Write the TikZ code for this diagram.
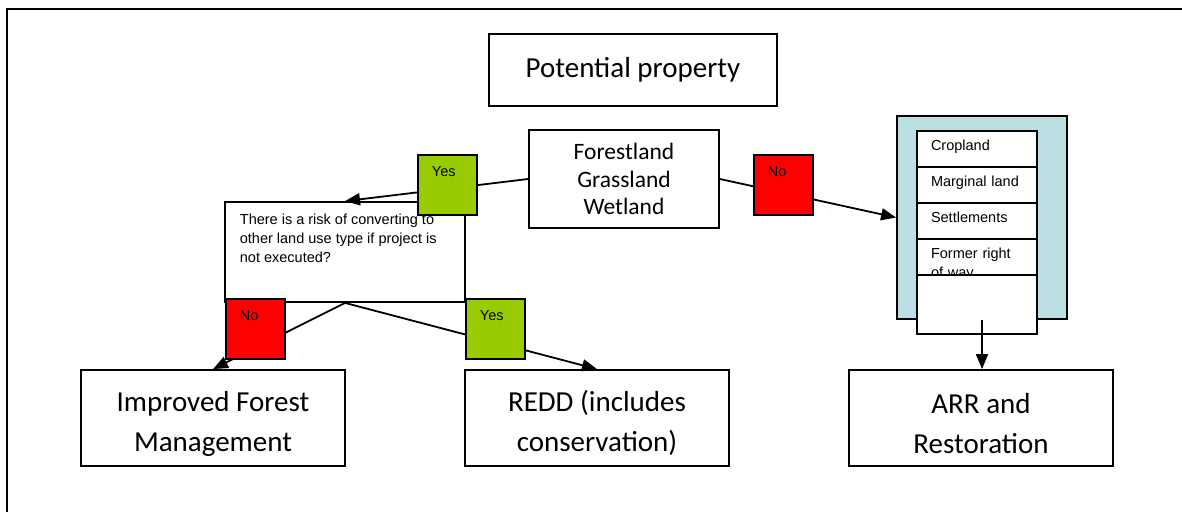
\documentclass[tikz,border=0pt]{standalone}
\usepackage{fontspec}
\usetikzlibrary{positioning,arrows.meta}
\newfontfamily\calibrifont{Carlito}
\newfontfamily\arialfont{Liberation Sans}
\newcommand\bigfont{\calibrifont\fontsize{29}{40}\selectfont}
\newcommand\midfont{\calibrifont\fontsize{23.5}{27.5}\selectfont}
\newcommand\smallfont{\arialfont\fontsize{14.5}{19}\selectfont}
\newcommand\lowstrut{\rule{0pt}{32pt}}
\definecolor{yesgreen}{HTML}{99CC00}
\definecolor{nored}{HTML}{FF0000}
\definecolor{poolblue}{HTML}{BAE0E4}

\begin{document}
\begin{tikzpicture}[x=1pt, y=-1pt, line width=1.8pt,
    bigbox/.style={draw, fill=white, font=\bigfont, align=center, inner sep=0pt},
    tag/.style={draw, inner xsep=14pt, inner ysep=0pt, text width=31pt,
                text height=22pt, text depth=38pt, align=left, font=\smallfont},
    rowbox/.style={draw, fill=white, outer sep=0pt, inner xsep=14pt, inner ysep=0pt, text width=92pt,
                   text height=19pt, text depth=17pt, align=left, font=\smallfont},
    link/.style={-{Triangle[length=15pt,width=12pt]}}]
    \useasboundingbox (0,0) rectangle (1182,512);
    \draw (1182,9) -- (7,9) -- (7,512);

    \node [bigbox, minimum width=288pt, minimum height=72pt] (potential) at (633,70) {Potential property};
    \node [bigbox, font=\midfont, minimum width=190pt, minimum height=98pt] (forest) at (624,179) {Forestland\\Grassland\\Wetland};

    % right hand stack
    \node [draw, fill=poolblue, inner sep=0pt, minimum width=170pt, minimum height=203pt] (pool) at (982,217.5) {};
    \node [rowbox, anchor=north] (crop) at (977,131) {Cropland};
    \node [rowbox, below=0pt of crop] (marginal) {Marginal land};
    \node [rowbox, below=0pt of marginal] (settle) {Settlements};
    \node [rowbox, below=0pt of settle] (former) {Former right of way};
    \node [rowbox, text depth=40pt, below=0pt of former] (blank) {};

    \node [bigbox, minimum width=264pt, minimum height=96pt] (ifm) at (213,418) {\lowstrut Improved Forest\\Management};
    \node [bigbox, minimum width=264pt, minimum height=96pt] (redd) at (597,418) {\lowstrut REDD (includes\\conservation)};
    \node [bigbox, minimum width=264pt, minimum height=96pt] (arr) at (981,418) {\lowstrut ARR and\\Restoration};

    \node [draw, fill=white, inner sep=0pt, minimum width=240pt, minimum height=100pt] (quest) at (345,252) {};

    \draw [link] (forest.west) -- (quest.north);
    \draw [link] (forest.east) -- (pool.west);
    \draw [link] (quest.south) -- (ifm.north);
    \draw [link] (quest.south) -- (redd.north);

    \node [tag, fill=yesgreen, anchor=north west] (yestop) at (417,154) {Yes};
    \node [tag, fill=nored, anchor=north west] (notop) at (753,154) {No};
    \node [tag, fill=nored, anchor=north west] (noleft) at (225,298) {No};
    \node [tag, fill=yesgreen, anchor=north west] (yesright) at (465,298) {Yes};

    \node [font=\smallfont, align=left, inner sep=0pt, anchor=north west] (questtext) at (239,213)
        {There is a risk of converting to\\other land use type if project is\\not executed?};

    \draw [link] (pool.south) -- (pool.south |- arr.north);
\end{tikzpicture}
\end{document}
